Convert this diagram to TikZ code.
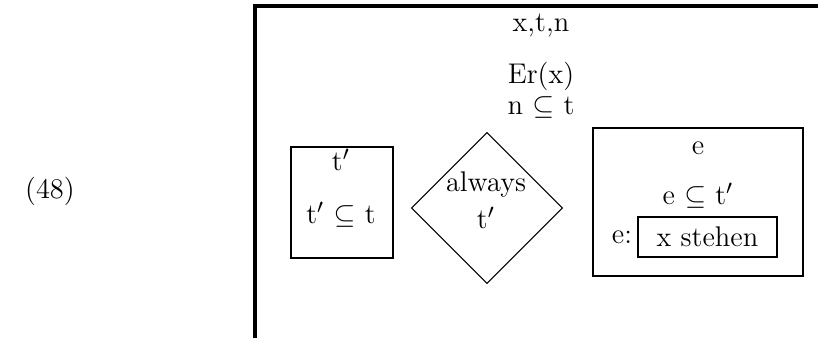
\documentclass[tikz,border=0pt]{standalone}
\usepackage{amsmath,amssymb}
\usepackage{tikz}
\usetikzlibrary{shapes.geometric}

\begin{document}
\begin{tikzpicture}[x=0.39pt,y=-0.39pt,font=\fontsize{11.1}{13}\selectfont,
  box/.style={draw,line width=0.8pt,inner sep=0pt},
  txt/.style={inner sep=0pt}]
\useasboundingbox (0,0) rectangle (818,338);
\node[txt] (num) at (50,191) {(48)};
% outer frame
\coordinate (frame bl) at (255,338);
\coordinate (frame tr) at (818,6);
\draw[line width=1.2pt] (frame bl) |- (frame tr);
\node[txt] (refs) at (541,25) {x,t,n};
\node[txt] (er) at (541,76) {Er(x)};
\node[txt] (nt) at (541,107) {n $\subseteq$ t};
% left box
\node[box,minimum width=39.8pt,minimum height=43.3pt] (tbox) at (342,202.5) {};
\node[txt] (tref) at (341,160) {t$'$};
\node[txt] (tcond) at (341,215) {t$'$ $\subseteq$ t};
% diamond
\node[draw,diamond,line width=0.4pt,minimum width=58.9pt,minimum height=58.9pt,inner sep=0pt] (always) at (487,208) {};
\node[txt] (alw) at (486,185) {always};
\node[txt] (alwt) at (486,218) {t$'$};
% right box
\node[box,minimum width=81.9pt,minimum height=57.7pt] (ebox) at (698,202) {};
\node[txt] (eref) at (698,148) {e};
\node[txt] (econd) at (698,196) {e $\subseteq$ t$'$};
\node[txt] (elab) at (622,237) {e:};
\node[box,minimum width=54.2pt,minimum height=15.6pt] (stehen) at (707.5,237) {x stehen};
\end{tikzpicture}
\end{document}
